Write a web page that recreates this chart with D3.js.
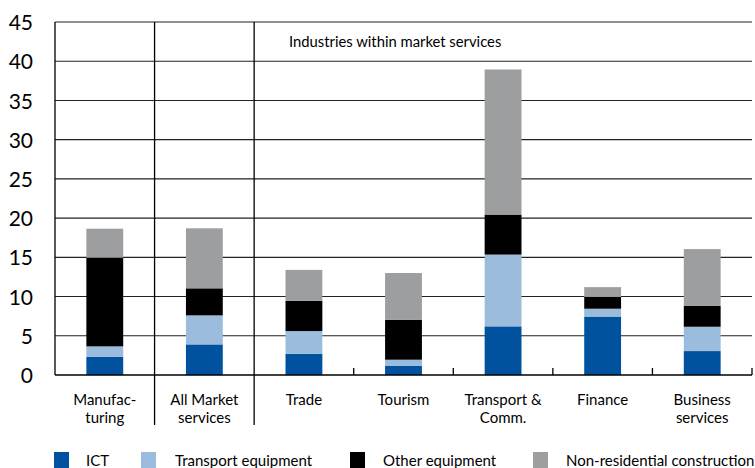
<!DOCTYPE html>
<html>
<head>
<meta charset="utf-8">
<script src="https://cdn.jsdelivr.net/npm/d3@7"></script>
<style>
  html, body { margin: 0; padding: 0; background: #fff; }
  text { font-family: Lato, "Open Sans", sans-serif; fill: #000; }
</style>
</head>
<body>
<svg id="chart" width="755" height="468"></svg>
<script>
// categories (two-line labels)
var categories = ["Manufacturing", "All Market services", "Trade", "Tourism", "Transport & Comm.", "Finance", "Business services"];
var categoryLines = [["Manufac-", "turing"], ["All Market", "services"], ["Trade"], ["Tourism"], ["Transport &", "Comm."], ["Finance"], ["Business", "services"]];

// series values (stacked)
var ict          = [2.3, 3.9, 2.7, 1.15, 6.2, 7.45, 3.05];
var transportEq  = [1.35, 3.7, 2.9, 0.8, 9.15, 1.0, 3.1];
var otherEq      = [11.3, 3.45, 3.85, 5.1, 5.1, 1.5, 2.65];
var nonResConstr = [3.7, 7.65, 3.95, 5.95, 18.5, 1.25, 7.25];

var seriesNames = ["ICT", "Transport equipment", "Other equipment", "Non-residential construction"];
var seriesColors = ["#00519e", "#9bbcdc", "#000000", "#9d9ea0"];
var yTicks = [0, 5, 10, 15, 20, 25, 30, 35, 40, 45];

var svg = d3.select("#chart");
var margin = { left: 55, right: 3, top: 22, bottom: 93 };
var W = 755, H = 468;

var x = d3.scaleBand()
    .domain(categories)
    .range([margin.left, W - margin.right])
    .paddingInner(0.63)
    .paddingOuter(0.315);

var y = d3.scaleLinear()
    .domain([0, 45])
    .range([H - margin.bottom, margin.top]);

// build table for stack
var table = categories.map(function(c, i) {
    return { cat: c, s0: ict[i], s1: transportEq[i], s2: otherEq[i], s3: nonResConstr[i] };
});
var stacked = d3.stack().keys(["s0", "s1", "s2", "s3"])(table);

// gridlines
svg.append("g")
    .selectAll("line")
    .data(yTicks.filter(function(d) { return d > 0; }))
    .join("line")
    .attr("x1", margin.left)
    .attr("x2", W - margin.right)
    .attr("y1", function(d) { return y(d); })
    .attr("y2", function(d) { return y(d); })
    .attr("stroke", "#222")
    .attr("stroke-width", 1.1);

// bars
svg.append("g")
    .selectAll("g")
    .data(stacked)
    .join("g")
    .attr("fill", function(d, i) { return seriesColors[i]; })
    .selectAll("rect")
    .data(function(d) { return d; })
    .join("rect")
    .attr("x", function(d) { return x(d.data.cat); })
    .attr("width", x.bandwidth())
    .attr("y", function(d) { return y(d[1]); })
    .attr("height", function(d) { return y(d[0]) - y(d[1]); });

// y axis labels
var yAxis = d3.axisLeft(y).tickValues(yTicks).tickSize(0).tickPadding(22);
var gy = svg.append("g")
    .attr("transform", "translate(" + margin.left + ",0)")
    .call(yAxis);
gy.select(".domain").remove();
gy.selectAll("text")
    .style("font-family", "Lato, 'Open Sans', sans-serif")
    .style("font-size", "21px")
    .attr("dy", "0.36em");

// baseline + left border
svg.append("line")
    .attr("x1", margin.left).attr("x2", W - margin.right)
    .attr("y1", y(0)).attr("y2", y(0))
    .attr("stroke", "#000").attr("stroke-width", 1.6);
svg.append("line")
    .attr("x1", margin.left).attr("x2", margin.left)
    .attr("y1", y(45)).attr("y2", y(0))
    .attr("stroke", "#000").attr("stroke-width", 1.3);

// separators and small ticks between categories
var step = x.step();
var bounds = d3.range(1, categories.length + 1).map(function(i) { return margin.left + i * step; });
bounds.forEach(function(b, i) {
    if (i < 2) {
        svg.append("line")
            .attr("x1", b).attr("x2", b)
            .attr("y1", y(45)).attr("y2", y(0) + 50)
            .attr("stroke", "#000").attr("stroke-width", 1.3);
    } else {
        svg.append("line")
            .attr("x1", b).attr("x2", b)
            .attr("y1", y(0) - 7).attr("y2", y(0))
            .attr("stroke", "#000").attr("stroke-width", 1.3);
    }
});

// header note
svg.append("text")
    .attr("x", 289)
    .attr("y", 47)
    .style("font-size", "14.8px")
    .text("Industries within market services");

// category labels
var xl = svg.append("g")
    .selectAll("text")
    .data(categories)
    .join("text")
    .attr("text-anchor", "middle")
    .attr("x", function(d) { return x(d) + x.bandwidth() / 2; })
    .attr("y", 405)
    .style("font-size", "15px");
xl.selectAll("tspan")
    .data(function(d, i) { return categoryLines[i]; })
    .join("tspan")
    .attr("x", function() { var c = d3.select(this.parentNode).datum(); return x(c) + x.bandwidth() / 2; })
    .attr("dy", function(d, i) { return i === 0 ? 0 : 18; })
    .text(function(d) { return d; });

// legend (cut at the bottom edge, as in the original)
var legendX = [54, 141, 350, 533];
var legendTextX = [86, 175, 383, 566];
var lg = svg.append("g");
seriesNames.forEach(function(name, i) {
    lg.append("rect")
        .attr("x", legendX[i]).attr("y", 452)
        .attr("width", 15).attr("height", 16)
        .attr("fill", seriesColors[i]);
    lg.append("text")
        .attr("x", legendTextX[i]).attr("y", 466)
        .style("font-size", "15px")
        .text(name);
});
</script>
</body>
</html>
